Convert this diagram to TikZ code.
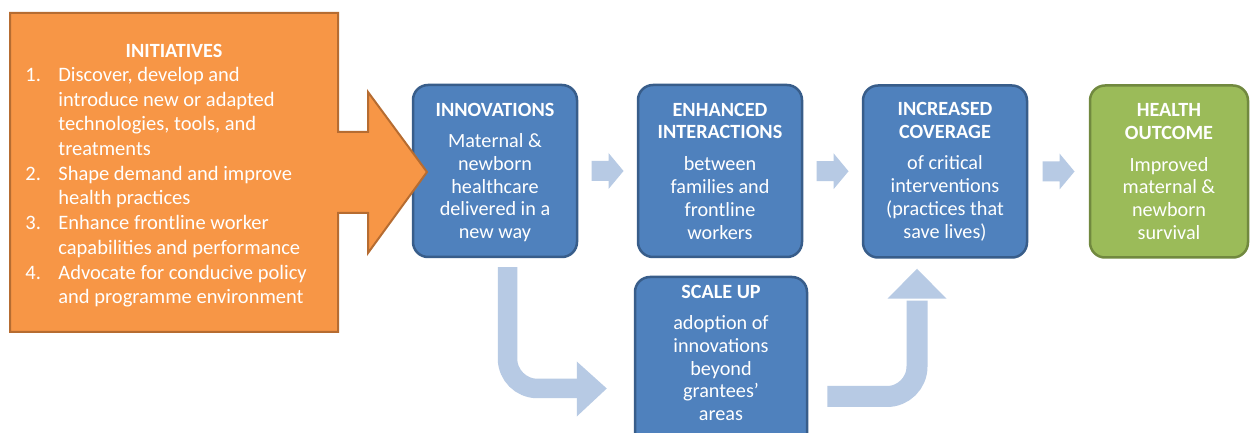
\documentclass[tikz,border=0pt]{standalone}
\usepackage{fontspec}
\setmainfont{Carlito}
\usetikzlibrary{calc}
\definecolor{orfill}{RGB}{247,150,70}
\definecolor{ordraw}{RGB}{182,108,49}
\definecolor{blfill}{RGB}{79,129,189}
\definecolor{bldraw}{RGB}{56,93,138}
\definecolor{grfill}{RGB}{155,187,89}
\definecolor{grdraw}{RGB}{113,137,63}
\definecolor{arfill}{RGB}{183,202,228}
\newcommand\blockarrow[2]{%
  \fill[lightarrow] ($(#1.east)!0.5!(#2.west)+(-16,-10)$) -- ++(17,0) -- ++(0,-8) -- ++(15,18) -- ++(-15,18) -- ++(0,-8) -- ++(-17,0) -- cycle;}
\begin{document}
\begin{tikzpicture}[x=0.5pt,y=-0.5pt,
  txt/.style={text=white,font=\fontsize{10.1}{11.4}\selectfont},
  box/.style={rounded corners=7.5pt, line width=1.25pt, minimum height=86pt, align=center, inner sep=0pt, txt},
  bluebox/.style={box, fill=blfill, draw=bldraw},
  greenbox/.style={box, fill=grfill, draw=grdraw},
  lightarrow/.style={fill=arfill},
  bentshaft/.style={draw=arfill, rounded corners=15pt}]
\clip (0,0) rectangle (1250,433);
\fill[white] (0,0) rectangle (1250,433);

% boxes
\node[bluebox, minimum width=82pt] (inn) at (495,171) {};
\node[txt, align=center, inner sep=0pt] (inntxt) at (495,172.5) {\textbf{INNOVATIONS}\\[4.25pt] Maternal \&\\ newborn\\ healthcare\\ delivered in a\\ new way};
\node[bluebox, minimum width=82pt] (enh) at (720,171) {\textbf{ENHANCED}\\ \textbf{INTERACTIONS}\\[4.5pt] between\\ families and\\ frontline\\ workers};
\node[bluebox, minimum width=82pt] (inc) at (945,171.5) {\textbf{INCREASED}\\ \textbf{COVERAGE}\\[4.5pt] of critical\\ interventions\\ (practices that\\ save lives)};
\node[greenbox, minimum width=79pt] (out) at (1169,171.5) {\textbf{HEALTH}\\ \textbf{OUTCOME}\\[4.5pt] Improved\\ maternal \&\\ newborn\\ survival};
\node[bluebox, minimum width=86pt] (scale) at (721,363) {};
\node[txt, align=center, inner sep=0pt] (scaletxt) at (721,353) {\textbf{SCALE UP}\\[4.25pt] adoption of\\ innovations\\ beyond\\ grantees’\\ areas};

% small block arrows
\blockarrow{inn}{enh}
\blockarrow{enh}{inc}
\blockarrow{inc}{out}

% bent arrows
\coordinate (b1s) at ($(inn.south)+(12.5,9)$);
\coordinate (b1e) at ($(scale.west)+(-57,25.5)$);
\draw[bentshaft, line width=9.75pt] (b1s) |- ($(b1e)+(2,0)$);
\fill[lightarrow] ($(b1e)+(0,-27)$) -- ++(30,27) -- ++(-30,28) -- cycle;

\coordinate (b2s) at ($(scale.east)+(19,33.5)$);
\coordinate (b2e) at ($(inc.south)+(-28,40)$);
\draw[bentshaft, line width=10.5pt] (b2s) -| ($(b2e)+(0,2)$);
\fill[lightarrow] ($(b2e)+(-29.5,0)$) -- ++(29.5,-30) -- ++(29.5,30) -- cycle;

% orange initiatives arrow
\draw[fill=orfill, draw=ordraw, line width=1pt, line join=miter]
  (10,13) -- (338,13) -- (338,132) -- (368,132) -- (368,92) -- (427,172)
  -- (368,253) -- (368,213) -- (338,213) -- (338,332) -- (10,332) -- cycle;
\node[txt, anchor=base, inner sep=0pt] (inithead) at (174,57.4) {\bfseries INITIATIVES};
\node[txt, anchor=base west, inner sep=0pt, font=\fontsize{10.25}{12.35}\selectfont] (initlist) at (25,81.5)
{\begin{tabular}[t]{@{}l@{}}
\makebox[16.5pt][l]{1.}Discover, develop and\\
\hspace*{16.5pt}introduce new or adapted\\
\hspace*{16.5pt}technologies, tools, and\\
\hspace*{16.5pt}treatments\\
\makebox[16.5pt][l]{2.}Shape demand and improve\\
\hspace*{16.5pt}health practices\\
\makebox[16.5pt][l]{3.}Enhance frontline worker\\
\hspace*{16.5pt}capabilities and performance\\
\makebox[16.5pt][l]{4.}Advocate for conducive policy\\
\hspace*{16.5pt}and programme environment
\end{tabular}};
\end{tikzpicture}
\end{document}
